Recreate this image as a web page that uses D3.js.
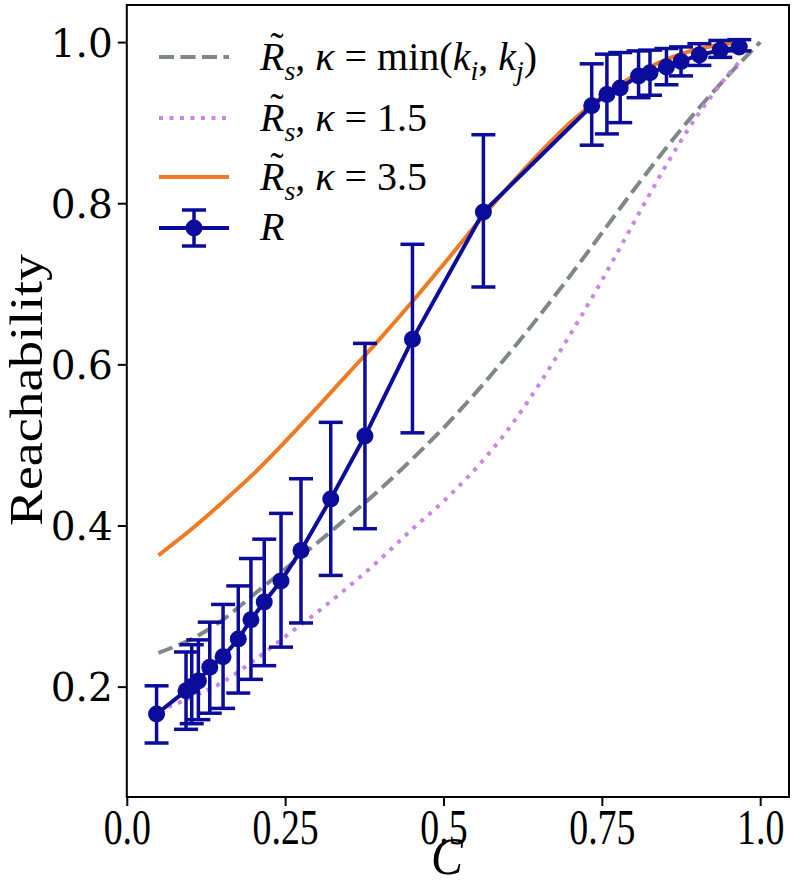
<!DOCTYPE html>
<html><head><meta charset="utf-8">
<script src="https://cdn.jsdelivr.net/npm/d3@7"></script>
<style>body{margin:0;background:#fff}</style>
</head><body>
<svg id="chart" width="795" height="880"></svg>
<script>
// ---- data ----
const cPts  = [0.047,0.0935,0.1025,0.113,0.131,0.152,0.176,0.196,0.217,0.2435,0.275,0.322,0.376,0.451,0.563,0.734,0.758,0.779,0.808,0.826,0.852,0.875,0.904,0.937,0.967];
const rVals = [0.166,0.195,0.200,0.207,0.224,0.237,0.259,0.283,0.305,0.331,0.369,0.433,0.511,0.631,0.789,0.921,0.935,0.943,0.958,0.962,0.969,0.976,0.984,0.990,0.994];
const rLo   = [0.130,0.147,0.154,0.159,0.167,0.173,0.192,0.209,0.226,0.249,0.279,0.338,0.396,0.515,0.696,0.872,0.886,0.900,0.931,0.934,0.947,0.958,0.971,0.981,0.989];
const rHi   = [0.201,0.243,0.252,0.258,0.280,0.302,0.325,0.359,0.383,0.415,0.458,0.528,0.626,0.749,0.885,0.973,0.985,0.987,0.989,0.990,0.992,0.994,0.998,1.002,1.003];

const grayC = [0.05,0.10,0.15,0.20,0.25,0.30,0.35,0.40,0.45,0.50,0.55,0.60,0.65,0.70,0.75,0.80,0.85,0.90,0.95,1.00];
const grayR = [0.242,0.258,0.282,0.314,0.346,0.378,0.411,0.445,0.482,0.521,0.564,0.610,0.659,0.710,0.763,0.816,0.867,0.915,0.959,1.000];
const pinkC = [0.05,0.10,0.15,0.20,0.25,0.30,0.35,0.40,0.45,0.50,0.55,0.60,0.65,0.70,0.75,0.80,0.85,0.90,0.95,0.97];
const pinkR = [0.170,0.186,0.205,0.232,0.262,0.292,0.324,0.358,0.395,0.430,0.470,0.517,0.574,0.637,0.704,0.775,0.845,0.908,0.960,0.978];
const orangeC = [0.05,0.10,0.15,0.20,0.25,0.30,0.35,0.40,0.45,0.50,0.55,0.60,0.65,0.70,0.75,0.80,0.85,0.90,0.95,0.97];
const orangeR = [0.363,0.394,0.428,0.464,0.504,0.546,0.589,0.632,0.677,0.724,0.772,0.818,0.861,0.900,0.932,0.958,0.978,0.991,0.998,1.000];

const xTicks = [0, 0.25, 0.5, 0.75, 1.0];
const xTickLabels = ["0.0","0.25","0.5","0.75","1.0"];
const yTicks = [0.2,0.4,0.6,0.8,1.0];
const yTickLabels = ["0.2","0.4","0.6","0.8","1.0"];

// ---- styles ----
const BLUE = "#0c0c9c", ORANGE = "#f07a22", GRAY = "#7e8886", PINK = "#cc85e4";
const SERIF = "'Liberation Serif', 'Times New Roman', Times, serif";
const svg = d3.select("#chart");
const L = 126.8, R = 789, T = 5, B = 797;
const x = d3.scaleLinear().domain([0, 1.0455]).range([L, R]);
const y = d3.scaleLinear().domain([0.063, 1.046]).range([B, T]);

const line = d3.line().x(d => x(d[0])).y(d => y(d[1])).curve(d3.curveCatmullRom.alpha(0.5));
const zip = (a, b) => a.map((v, i) => [v, b[i]]);

// curves
svg.append("path").attr("d", line(zip(grayC, grayR))).attr("fill","none")
  .attr("stroke", GRAY).attr("stroke-width", 4).attr("stroke-dasharray","15,6.5");
svg.append("path").attr("d", line(zip(pinkC, pinkR))).attr("fill","none")
  .attr("stroke", PINK).attr("stroke-width", 4).attr("stroke-dasharray","4,6.5");
svg.append("path").attr("d", line(zip(orangeC, orangeR))).attr("fill","none")
  .attr("stroke", ORANGE).attr("stroke-width", 4);

// error bars
const eb = svg.append("g").attr("stroke", BLUE).attr("stroke-width", 3.5);
cPts.forEach((c, i) => {
  eb.append("line").attr("x1", x(c)).attr("x2", x(c)).attr("y1", y(rLo[i])).attr("y2", y(rHi[i]));
  eb.append("line").attr("x1", x(c)-12).attr("x2", x(c)+12).attr("y1", y(rLo[i])).attr("y2", y(rLo[i]));
  eb.append("line").attr("x1", x(c)-12).attr("x2", x(c)+12).attr("y1", y(rHi[i])).attr("y2", y(rHi[i]));
});
const lin = d3.line().x(d => x(d[0])).y(d => y(d[1]));
svg.append("path").attr("d", lin(zip(cPts, rVals))).attr("fill","none")
  .attr("stroke", BLUE).attr("stroke-width", 4);
svg.append("g").selectAll("circle").data(zip(cPts, rVals)).join("circle")
  .attr("cx", d => x(d[0])).attr("cy", d => y(d[1])).attr("r", 8.5).attr("fill", BLUE);

// frame
svg.append("rect").attr("x", L).attr("y", T).attr("width", R-L).attr("height", B-T)
  .attr("fill","none").attr("stroke","#000").attr("stroke-width", 2);

// axes
const xAxis = d3.axisBottom(x).tickValues(xTicks).tickSize(9).tickFormat((d,i)=>xTickLabels[i]);
const gx = svg.append("g").attr("transform", `translate(0,${B})`).call(xAxis);
gx.select(".domain").remove();
gx.selectAll(".tick line").attr("stroke","#000").attr("stroke-width",2);
gx.selectAll(".tick text").attr("font-family", SERIF).attr("font-size",44)
  .attr("fill","#000").attr("y", 0).attr("dy", 0)
  .attr("transform","translate(0,47) scale(0.86,1.15)");

const yAxis = d3.axisLeft(y).tickValues(yTicks).tickSize(9).tickFormat((d,i)=>yTickLabels[i]);
const gy = svg.append("g").attr("transform", `translate(${L},0)`).call(yAxis);
gy.select(".domain").remove();
gy.selectAll(".tick line").attr("stroke","#000").attr("stroke-width",2);
gy.selectAll(".tick text").attr("font-family","'DejaVu Serif', serif").attr("font-size",39)
  .attr("fill","#000").attr("x", -14).attr("dy","0.36em");

// axis labels
svg.append("text").attr("x", 447).attr("y", 874).attr("text-anchor","middle")
  .attr("font-family", SERIF).attr("font-style","italic").attr("font-size",48)
  .attr("transform","translate(447,874) scale(1,1.1) translate(-447,-874)")
  .text("C");
svg.append("text").attr("transform","translate(42,390) rotate(-90)").attr("text-anchor","middle")
  .attr("font-family", SERIF).attr("font-size",46)
  .attr("textLength", 272).attr("lengthAdjust","spacingAndGlyphs")
  .text("Reachability");

// legend
const FS = 40;
const legRows = [57, 118, 177, 228];
function mathText(tx, ty, parts, tilde) {
  const t = svg.append("text").attr("x", tx).attr("y", ty)
    .attr("font-family", SERIF).attr("font-size", FS).attr("fill","#000");
  let sub = false;
  parts.forEach(p => {
    const s = t.append("tspan").text(p.t);
    if (p.i) s.attr("font-style","italic");
    if (p.sub && !sub) { s.attr("dy", 0.26*FS).attr("font-size", FS*0.7); sub = true; }
    else if (p.sub) { s.attr("font-size", FS*0.7); }
    else if (!p.sub && sub) { s.attr("dy", -0.26*FS); sub = false; }
  });
  if (tilde) {
    svg.append("text").attr("x", tx + 0.42*FS).attr("y", ty - 0.24*FS).attr("text-anchor","middle")
      .attr("font-family", SERIF).attr("font-size", FS).text("\u02DC");
  }
}
const lx1 = 159, lx2 = 229, tx = 260;
// row 1
svg.append("line").attr("x1",lx1).attr("x2",lx2).attr("y1",legRows[0]).attr("y2",legRows[0])
  .attr("stroke",GRAY).attr("stroke-width",4).attr("stroke-dasharray","15,6.5");
mathText(tx, legRows[0]+13, [{t:"R",i:1},{t:"s",i:1,sub:1},{t:", "},{t:"κ",i:1},{t:" = min("},{t:"k",i:1},{t:"i",i:1,sub:1},{t:", "},{t:"k",i:1},{t:"j",i:1,sub:1},{t:")"}], true);
// row 2
svg.append("line").attr("x1",lx1).attr("x2",lx2).attr("y1",legRows[1]).attr("y2",legRows[1])
  .attr("stroke",PINK).attr("stroke-width",4).attr("stroke-dasharray","4,6.5");
mathText(tx, legRows[1]+13, [{t:"R",i:1},{t:"s",i:1,sub:1},{t:", "},{t:"κ",i:1},{t:" = 1.5"}], true);
// row 3
svg.append("line").attr("x1",lx1).attr("x2",lx2).attr("y1",legRows[2]).attr("y2",legRows[2])
  .attr("stroke",ORANGE).attr("stroke-width",4);
mathText(tx, legRows[2]+13, [{t:"R",i:1},{t:"s",i:1,sub:1},{t:", "},{t:"κ",i:1},{t:" = 3.5"}], true);
// row 4
const ly = legRows[3], lcx = (lx1+lx2)/2;
svg.append("line").attr("x1",lx1).attr("x2",lx2).attr("y1",ly).attr("y2",ly).attr("stroke",BLUE).attr("stroke-width",4);
svg.append("line").attr("x1",lcx).attr("x2",lcx).attr("y1",ly-18).attr("y2",ly+18).attr("stroke",BLUE).attr("stroke-width",3.5);
svg.append("line").attr("x1",lcx-12).attr("x2",lcx+12).attr("y1",ly-18).attr("y2",ly-18).attr("stroke",BLUE).attr("stroke-width",3.5);
svg.append("line").attr("x1",lcx-12).attr("x2",lcx+12).attr("y1",ly+18).attr("y2",ly+18).attr("stroke",BLUE).attr("stroke-width",3.5);
svg.append("circle").attr("cx",lcx).attr("cy",ly).attr("r",8.5).attr("fill",BLUE);
mathText(tx, ly+12, [{t:"R",i:1}], false);
</script>
</body></html>
